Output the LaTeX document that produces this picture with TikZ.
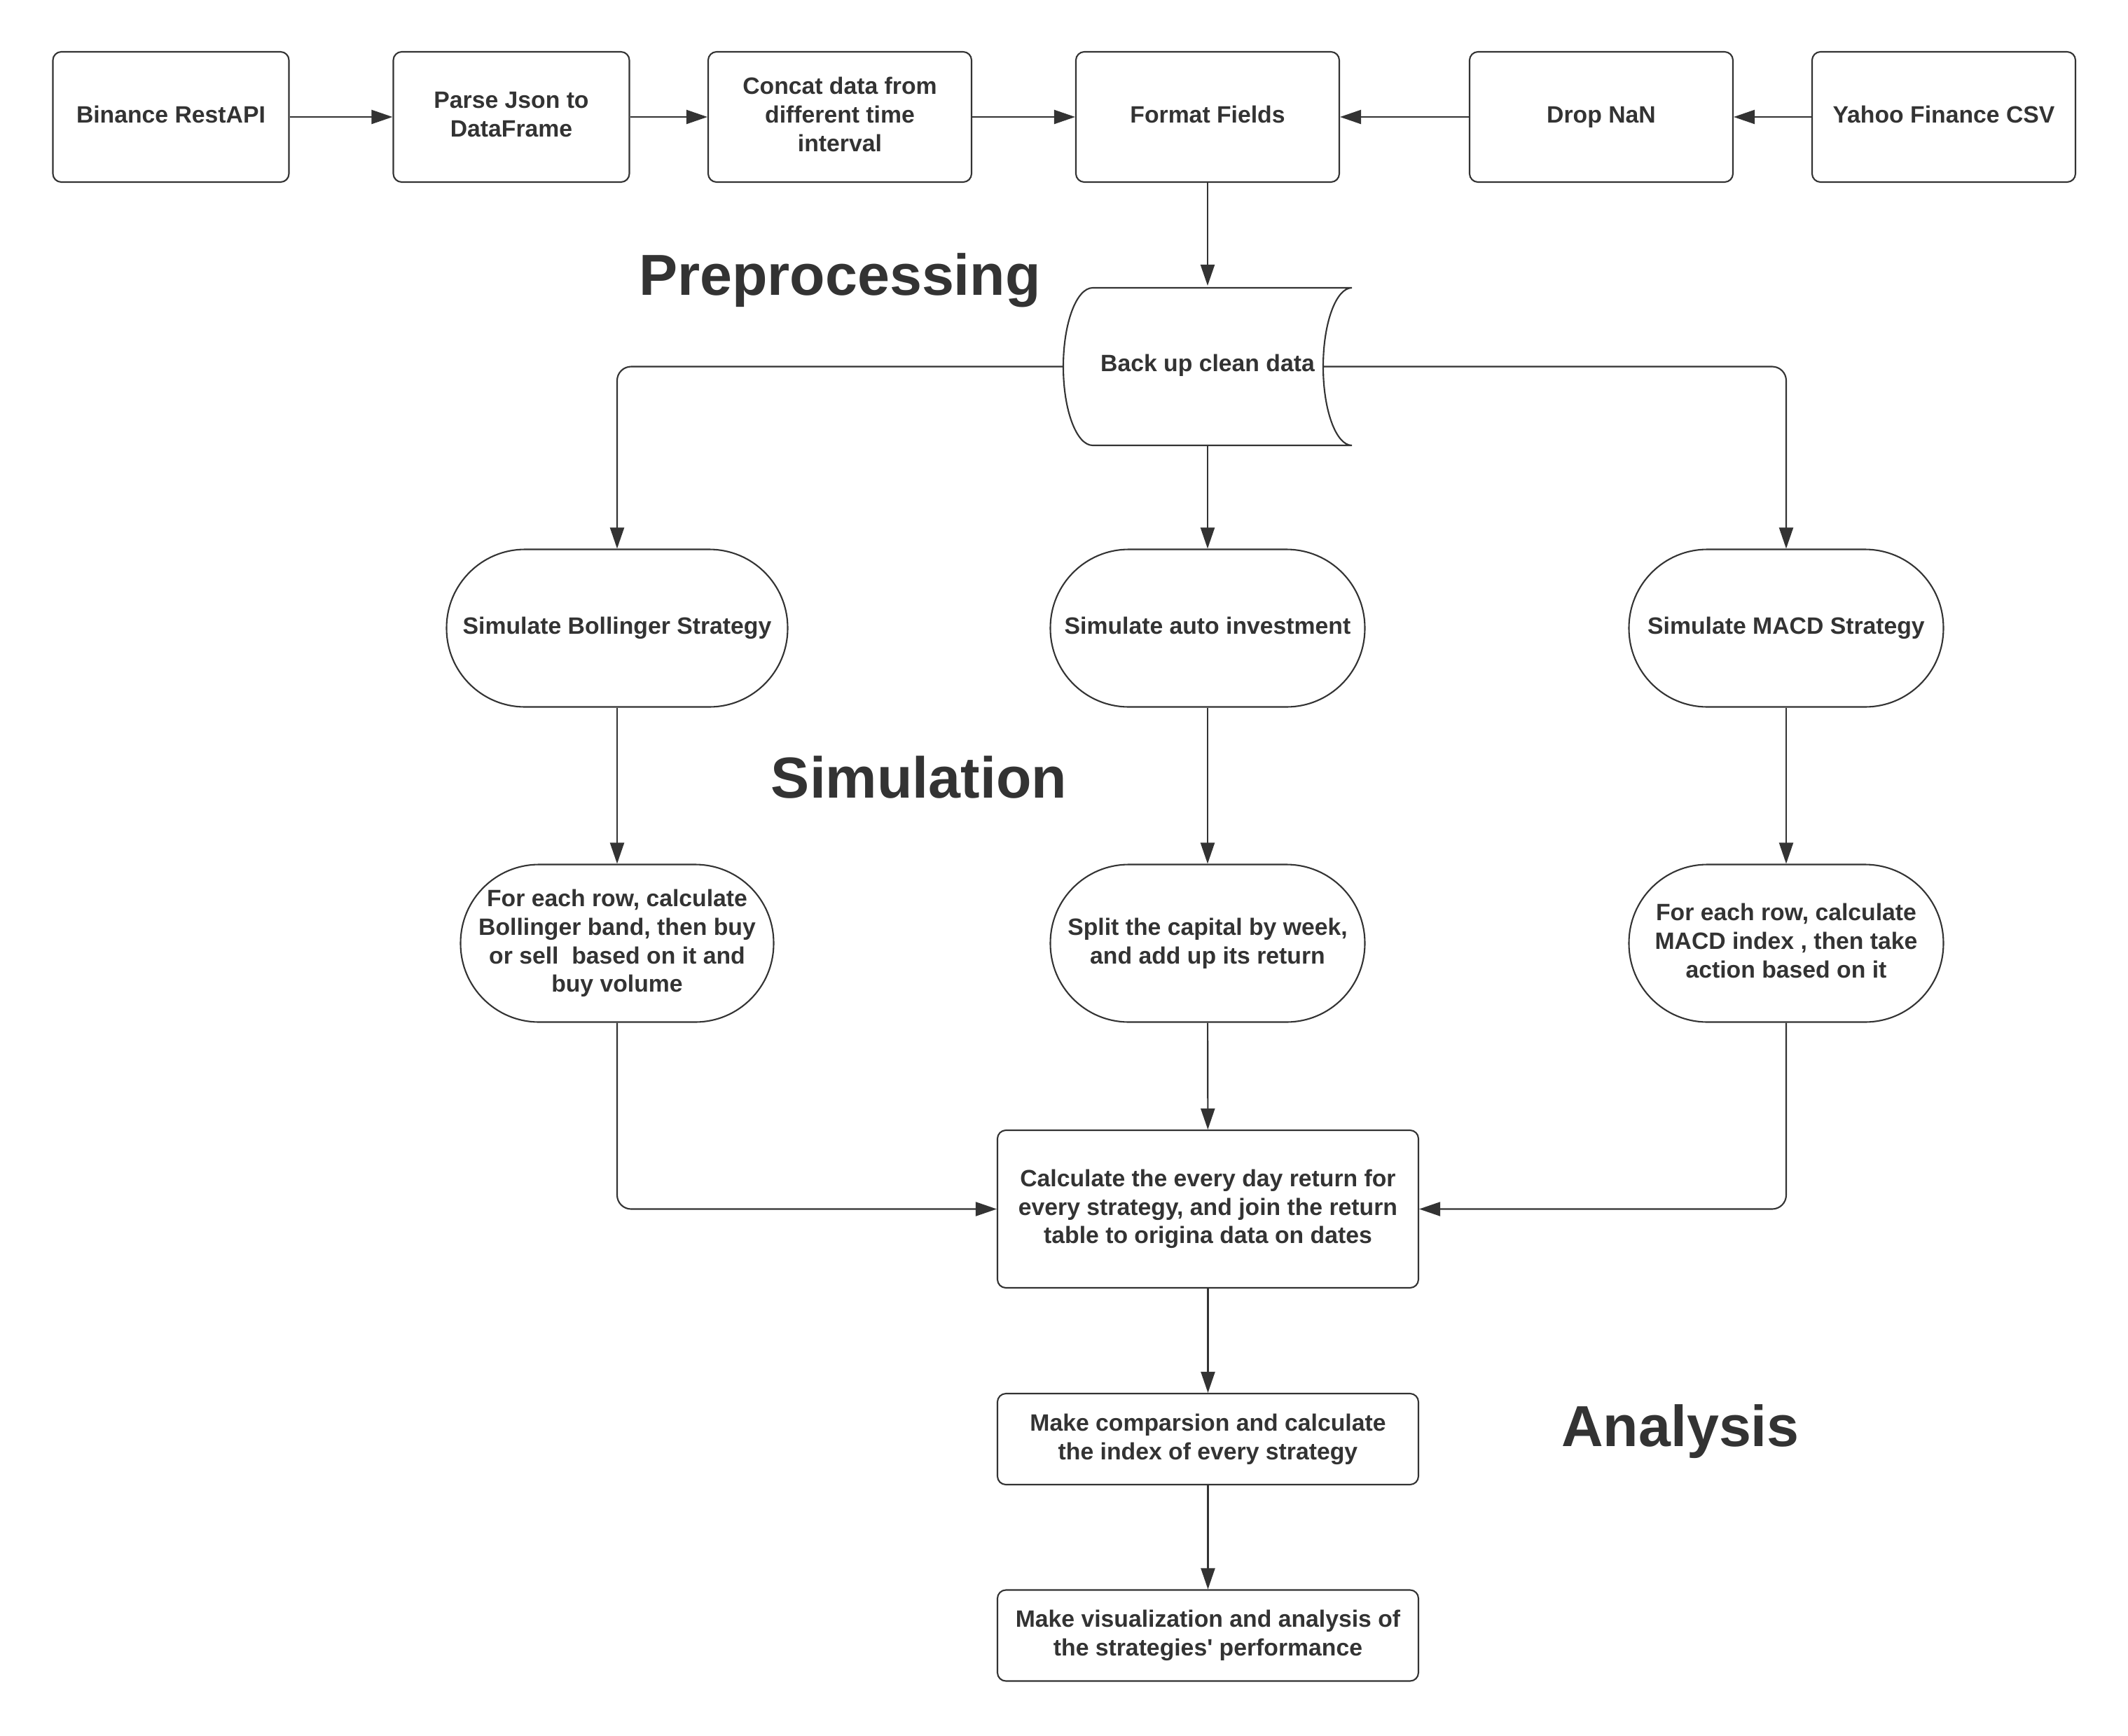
\documentclass[tikz,border=0pt]{standalone}
\usepackage{fontspec}
\setmainfont{Liberation Sans}
\usetikzlibrary{arrows.meta}
\definecolor{ink}{HTML}{333333}

\begin{document}
\begin{tikzpicture}[color=ink, line width=0.6pt,
  box/.style={draw, rounded corners=0.12cm, align=center, inner sep=0pt,
    font=\bfseries\fontsize{9.6}{11.6}\selectfont, execute at end node=\vphantom{g}},
  topbox/.style={box, minimum width=#1, minimum height=1.86cm},
  pill/.style={box, rounded corners=1.12cm, minimum width=#1, minimum height=2.25cm},
  stepbox/.style={box, minimum width=6.01cm, minimum height=#1},
  title/.style={font=\bfseries\fontsize{23.5}{28}\selectfont},
  arr/.style={-{Triangle[length=0.3cm,width=0.2cm]}},
  elbow/.style={arr, rounded corners=0.2cm}]
\useasboundingbox (0,0) rectangle (30.38,-24.79);

\node [topbox=3.37cm] (bin) at (2.44,-1.67) {Binance RestAPI};
\node [topbox=3.37cm] (parse) at (7.30,-1.67) {Parse Json to\\DataFrame};
\node [topbox=3.76cm] (concat) at (11.99,-1.67) {Concat data from\\different time\\interval};
\node [topbox=3.76cm] (fmt) at (17.24,-1.67) {Format Fields};
\node [topbox=3.76cm] (drop) at (22.86,-1.67) {Drop NaN};
\node [topbox=3.76cm] (yahoo) at (27.75,-1.67) {Yahoo Finance CSV};

\node [box, draw=none, minimum width=4.12cm, minimum height=2.25cm] (db) at (17.24,-5.215) {Back up clean data};
\draw (15.60,-4.11) -- (19.30,-4.11) arc (90:270:0.41cm and 1.125cm) -- (15.60,-6.36);
\draw (15.60,-4.11) arc (90:270:0.42cm and 1.125cm);
\coordinate (dbw) at (15.18,-5.235);
\coordinate (dbe) at (18.89,-5.235);

\node [pill=4.87cm] (boll) at (8.81,-8.97) {Simulate Bollinger Strategy};
\node [pill=4.49cm] (auto) at (17.24,-8.97) {Simulate auto investment};
\node [pill=4.49cm] (macd) at (25.50,-8.97) {Simulate MACD Strategy};

\node [pill=4.47cm] (bolltrade) at (8.81,-13.47) {For each row, calculate\\Bollinger band, then buy\\or sell\ \ based on it and\\buy volume};
\node [pill=4.49cm] (split) at (17.24,-13.47) {Split the capital by week,\\and add up its return};
\node [pill=4.49cm] (macdtrade) at (25.50,-13.47) {For each row, calculate\\MACD index , then take\\action based on it};

\node [stepbox=2.25cm] (calc) at (17.245,-17.265) {Calculate the every day return for\\every strategy, and join the return\\table to origina data on dates};
\node [stepbox=1.30cm] (cmp) at (17.245,-20.55) {Make comparsion and calculate\\the index of every strategy};
\node [stepbox=1.30cm] (vis) at (17.245,-23.355) {Make visualization and analysis of\\the strategies\textquotesingle{} performance};

\node [title] (prep) at (11.99,-4.0) {Preprocessing};
\node [title] (sim) at (13.12,-11.10) {Simulation};
\node [title] (ana) at (23.99,-20.44) {Analysis};

\draw [arr] (bin) -- (parse);
\draw [arr] (parse) -- (concat);
\draw [arr] (concat) -- (fmt);
\draw [arr] (yahoo) -- (drop);
\draw [arr] (drop) -- (fmt);
\draw [arr] (fmt) -- (db.north);
\draw [elbow] (dbw) -| (boll.north);
\draw [arr] (db.south) -- (auto);
\draw [elbow] (dbe) -| (macd.north);
\draw [arr] (boll) -- (bolltrade);
\draw [arr] (auto) -- (split);
\draw [arr] (macd) -- (macdtrade);
\draw [elbow] (bolltrade.south) |- (calc.west);
\draw [arr] (split) -- (calc);
\draw [elbow] (macdtrade.south) |- (calc.east);
\draw [arr] (calc) -- (cmp);
\draw [arr] (cmp) -- (vis);
\end{tikzpicture}
\end{document}
